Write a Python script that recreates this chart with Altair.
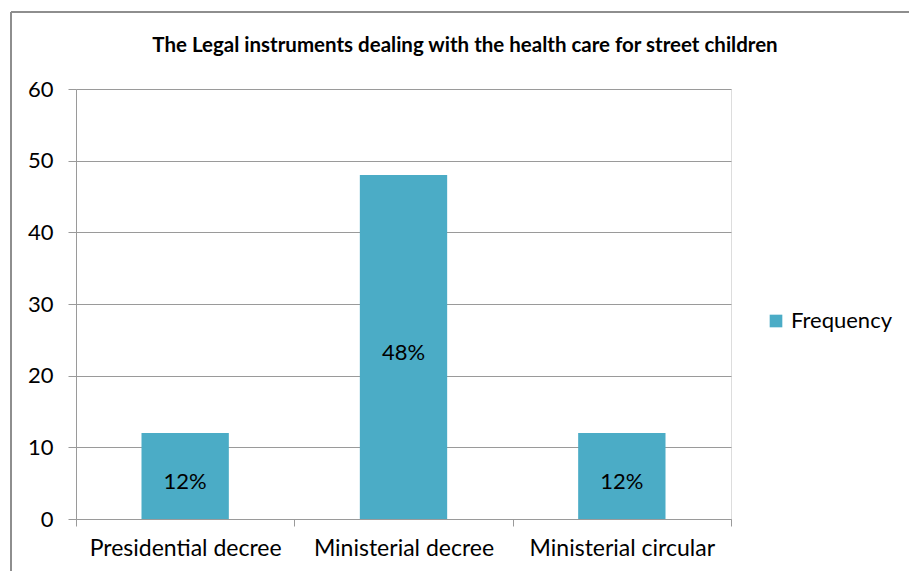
import altair as alt
import pandas as pd

categories = ["Presidential decree", "Ministerial decree", "Ministerial circular"]
values = [12, 48, 12]
labels = ["12%", "48%", "12%"]
series = ["Frequency", "Frequency", "Frequency"]
title_text = "The Legal instruments dealing with the health care for street children"

df = pd.DataFrame({"cat": categories, "val": values, "lab": labels, "series": series})
df["mid"] = df["val"] / 2

FONT = "Lato"
GRAY = "#9a9a9a"

x = alt.X("cat:N", sort=categories, title=None,
          scale=alt.Scale(paddingInner=0, paddingOuter=0),
          axis=alt.Axis(labelAngle=0, labelFontSize=23, labelFont=FONT, labelColor="#000",
                        tickBand="extent", tickSize=7, tickColor=GRAY, domainColor=GRAY,
                        labelPadding=11, labelLimit=0, grid=False))

bars = alt.Chart(df).mark_bar(color="#4BACC6", width=alt.RelativeBandSize(0.4)).encode(
    x=x,
    y=alt.Y("val:Q", title=None,
            scale=alt.Scale(domain=[0, 60]),
            axis=alt.Axis(values=[0, 10, 20, 30, 40, 50, 60], labelFontSize=22, labelFont=FONT,
                          labelColor="#000", tickSize=8, tickColor=GRAY, domainColor=GRAY,
                          gridColor=GRAY, labelPadding=15)),
    color=alt.Color("series:N", scale=alt.Scale(range=["#4BACC6"]),
                    legend=alt.Legend(title=None, orient="none", legendX=689, legendY=221,
                                      symbolType="square", symbolSize=160, symbolStrokeWidth=0,
                                      labelFontSize=22, labelFont=FONT, labelColor="#000",
                                      labelOffset=4)),
)

text = alt.Chart(df).mark_text(fontSize=22, font=FONT, color="#000", dy=6).encode(
    x=alt.X("cat:N", sort=categories),
    y=alt.Y("mid:Q"),
    text="lab:N",
)

title = alt.Chart(pd.DataFrame({"t": [title_text]})).mark_text(
    fontSize=20.5, font=FONT, fontWeight="bold", color="#000", align="center", baseline="middle"
).encode(x=alt.value(389), y=alt.value(-43), text="t:N")

frame_left = alt.Chart(df).mark_rule(color="#8c8c8c", strokeWidth=1.5).encode(
    x=alt.value(-65), y=alt.value(-77), y2=alt.value(490))
frame_top = alt.Chart(df).mark_rule(color="#8c8c8c", strokeWidth=1.5).encode(
    x=alt.value(-65), x2=alt.value(840), y=alt.value(-77))

chart = alt.layer(bars, text, title, frame_left, frame_top).properties(
    width=655, height=430,
    autosize=alt.AutoSizeParams(type="none"),
    padding={"left": 76, "top": 89, "right": 178, "bottom": 52},
).configure_view(stroke=None).configure(background="white")

chart.save("out.html", embed_options={"renderer": "svg", "actions": False})
